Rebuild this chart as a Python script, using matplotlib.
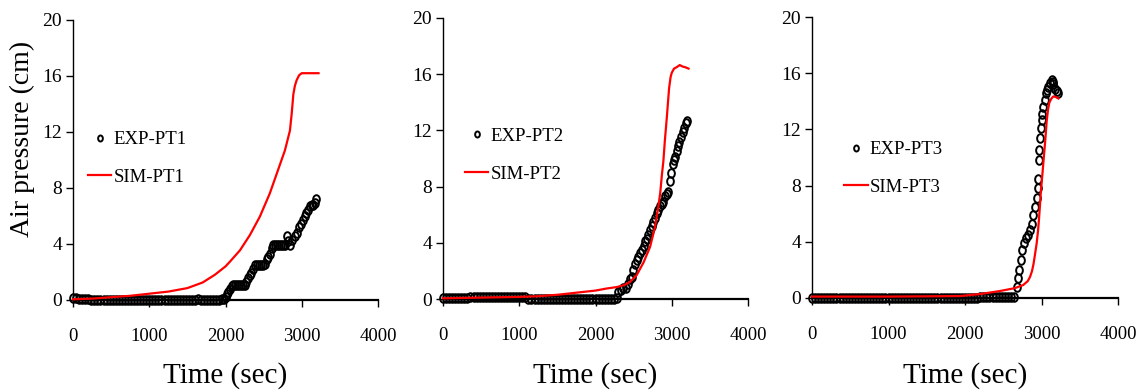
import matplotlib
matplotlib.use('Agg')
import matplotlib.pyplot as plt
from matplotlib.path import Path
from matplotlib.transforms import Affine2D

plt.rcParams['font.family'] = ['Liberation Serif', 'DejaVu Serif']

# ---------------- data ----------------
exp1_t = [0, 40, 80, 120, 160, 200, 240, 280, 320, 360, 400, 440, 480, 520, 560, 600, 640, 680, 720, 760,
          800, 840, 880, 920, 960, 1000, 1040, 1080, 1120, 1160, 1200, 1240, 1280, 1320, 1360, 1400, 1440, 1480,
          1520, 1560, 1600, 1640, 1680, 1720, 1760, 1800, 1840, 1880, 1920, 1960,
          1980, 2000, 2015, 2035, 2057, 2080, 2100, 2125, 2150, 2175, 2200, 2225, 2250, 2275, 2300, 2320, 2340,
          2360, 2385, 2410, 2435, 2460, 2490, 2515, 2540, 2560, 2585, 2610, 2625, 2650, 2675, 2700, 2725, 2750,
          2775, 2800, 2820, 2845, 2870, 2910, 2940, 2970, 2996, 3020, 3040, 3060, 3085, 3110, 3130, 3150, 3170,
          3193]
exp1_p = [0.15, 0.15, 0.1, 0.1, 0.05, 0.05, 0, 0, 0, 0,
          0, 0, 0, 0, 0, 0, 0, 0, 0, 0,
          0, 0, 0, 0, 0, 0, 0, 0, 0, 0,
          0, 0, 0, 0, 0, 0, 0, 0, 0, 0,
          0, 0.1, 0, 0, 0, 0, 0, 0, 0, 0.05,
          0.1, 0.2, 0.4, 0.6, 0.8, 1.0, 1.1, 1.1, 1.1, 1.1,
          1.1, 1.1, 1.1, 1.3, 1.55, 1.8, 1.9, 2.2, 2.5, 2.5,
          2.5, 2.5, 2.5, 2.6, 2.9, 3.1, 3.3, 3.7, 3.9, 3.9,
          3.9, 3.9, 3.9, 3.9, 3.9, 4.6, 4.2, 3.9, 4.3, 4.6,
          4.8, 5.2, 5.4, 5.7, 6.0, 6.2, 6.4, 6.7, 6.8, 6.8,
          6.9, 7.2]
sim1_t = [0, 250, 500, 750, 1000, 1250, 1500, 1700, 1860, 2000, 2060, 2190, 2320, 2450, 2580, 2690, 2780,
          2845, 2868, 2890, 2910, 2933, 2965, 3000, 3100, 3220]
sim1_p = [0.05, 0.1, 0.2, 0.3, 0.45, 0.6, 0.85, 1.25, 1.8, 2.4, 2.75, 3.55, 4.64, 5.95, 7.6, 9.3, 10.7,
          12.1, 13.3, 14.7, 15.3, 15.7, 16.05, 16.2, 16.2, 16.2]

exp2_t = [0, 40, 80, 120, 160, 200, 240, 280, 320, 360, 400, 440, 480, 520, 560, 600, 640, 680, 720, 760,
          800, 840, 880, 920, 960, 1000, 1040, 1080, 1120, 1160, 1200, 1240, 1280, 1320, 1360, 1400, 1440, 1480,
          1520, 1560, 1600, 1640, 1680, 1720, 1760, 1800, 1840, 1880, 1920, 1960, 2000, 2040, 2080, 2120, 2160,
          2200, 2240,
          2280, 2300, 2330, 2365, 2400, 2430, 2455, 2475, 2495, 2520, 2540, 2560, 2585, 2605, 2630, 2650, 2670,
          2695, 2715, 2735, 2760, 2780, 2800, 2825, 2845, 2870, 2890, 2910, 2935, 2955, 2975, 2990, 3010, 3030,
          3045, 3065, 3085, 3100, 3120, 3145, 3165, 3185, 3200]
exp2_p = [0.05, 0.05, 0.05, 0.05, 0.05, 0.05, 0.05, 0.05, 0.05,
          0.15, 0.15, 0.15, 0.15, 0.15, 0.15, 0.15, 0.15, 0.15, 0.15,
          0.15, 0.15, 0.15, 0.15, 0.15, 0.15, 0.15, 0.15, 0.15,
          0, 0, 0, 0, 0, 0, 0, 0, 0, 0,
          0, 0, 0, 0, 0, 0, 0, 0, 0, 0,
          0, 0, 0, 0, 0, 0, 0, 0, 0,
          0.1, 0.5, 0.65, 0.75, 0.8, 1.1, 1.4, 1.6, 2.05, 2.5,
          2.8, 3.0, 3.3, 3.5, 3.8, 4.1, 4.3, 4.55, 4.9, 5.2,
          5.5, 5.8, 6.1, 6.35, 6.6, 6.75, 6.9, 7.3, 7.5, 7.6,
          8.4, 9.0, 9.6, 9.9, 10.1, 10.55, 10.9, 11.2, 11.5, 11.9,
          12.2, 12.5, 12.7]
sim2_t = [0, 500, 1000, 1250, 1500, 1750, 2000, 2150, 2280, 2380, 2450, 2540, 2630, 2715, 2780, 2825, 2850,
          2870, 2890, 2910, 2935, 2965, 2985, 3000, 3030, 3065, 3105, 3140, 3175, 3220]
sim2_p = [0.05, 0.1, 0.15, 0.2, 0.3, 0.45, 0.6, 0.75, 0.85, 1.0, 1.2, 1.7, 2.6, 3.7, 5.1, 6.6, 7.6,
          8.8, 9.8, 11.3, 12.9, 15.0, 15.8, 16.1, 16.4, 16.5, 16.65, 16.55, 16.5, 16.4]

exp3_t = [0, 40, 80, 120, 160, 200, 240, 280, 320, 360, 400, 440, 480, 520, 560, 600, 640, 680, 720, 760,
          800, 840, 880, 920, 960, 1000, 1040, 1080, 1120, 1160, 1200, 1240, 1280, 1320, 1360, 1400, 1440, 1480,
          1520, 1560, 1600, 1640, 1680, 1720, 1760, 1800, 1840, 1880, 1920, 1960, 2000, 2040, 2080, 2120, 2160,
          2200, 2240, 2280, 2320, 2360, 2400, 2440, 2480, 2520, 2560, 2600, 2640,
          2676, 2697, 2710, 2728, 2750, 2772, 2793, 2820, 2850, 2872, 2893, 2915, 2937, 2948, 2958, 2967, 2971,
          2980, 2993, 3002, 3010, 3023, 3046, 3059, 3075, 3089, 3110, 3133, 3145, 3155, 3175, 3198, 3220]
exp3_p = [0, 0, 0, 0, 0, 0, 0, 0, 0, 0,
          0, 0, 0, 0, 0, 0, 0, 0, 0, 0,
          0, 0, 0, 0, 0, 0, 0, 0, 0, 0,
          0, 0, 0, 0, 0, 0, 0, 0, 0, 0,
          0, 0, 0, 0, 0, 0, 0, 0, 0, 0,
          0, 0, 0, 0, 0,
          0.08, 0.08, 0.08, 0.08, 0.08, 0.08, 0.08, 0.08, 0.08, 0.08, 0.08, 0.08,
          0.8, 1.4, 2.0, 2.7, 3.4, 3.9, 4.25, 4.5, 4.84, 5.3,
          5.9, 6.5, 7.1, 7.8, 8.5, 9.8, 10.5, 11.4, 12.1, 12.7,
          13.1, 13.6, 14.1, 14.6, 14.8, 15.0, 15.3, 15.5, 15.4, 15.2,
          14.9, 14.7, 14.6]
sim3_t = [0, 500, 1000, 1500, 1935, 2200, 2460, 2650, 2760, 2820, 2850, 2875, 2895, 2915, 2937, 2955, 2967,
          2980, 2993, 3010, 3030, 3046, 3068, 3085, 3102, 3130, 3155, 3190, 3220]
sim3_p = [0.1, 0.1, 0.1, 0.12, 0.14, 0.28, 0.5, 0.7, 0.92, 1.2, 1.5, 1.9, 2.4, 3.1, 3.9, 4.8, 5.6,
          6.6, 7.7, 8.7, 10.0, 11.0, 12.6, 13.4, 13.9, 14.2, 14.35, 14.3, 14.2]

exp_labels = ['EXP-PT1', 'EXP-PT2', 'EXP-PT3']
sim_labels = ['SIM-PT1', 'SIM-PT2', 'SIM-PT3']
x_ticks = [0, 1000, 2000, 3000, 4000]
y_ticks = [0, 4, 8, 12, 16, 20]
x_label = 'Time (sec)'
y_label = 'Air pressure (cm)'

exps = [(exp1_t, exp1_p), (exp2_t, exp2_p), (exp3_t, exp3_p)]
sims = [(sim1_t, sim1_p), (sim2_t, sim2_p), (sim3_t, sim3_p)]

# ---------------- layout ----------------
W, H = 1140, 390
fig = plt.figure(figsize=(W / 100, H / 100), dpi=100)

# slightly narrow open circle, as in the reference
ellipse = Path.unit_circle().transformed(Affine2D().scale(0.78, 1.0))

boxes = [(73, 20, 305, 280), (443, 18, 305, 281), (812, 17, 306, 281)]  # left, top, w, h in px
legend_anchor = [(0.049, 0.505), (0.072, 0.512), (0.105, 0.461)]

for i in range(3):
    l, t, w, h = boxes[i]
    ax = fig.add_axes([l / W, 1 - (t + h) / H, w / W, h / H])
    et, ep = exps[i]
    st, sp = sims[i]
    ax.plot(et, ep, linestyle='none', marker=ellipse, markersize=6.2, markerfacecolor='none',
            markeredgecolor='black', markeredgewidth=1.4, clip_on=False, zorder=2,
            label=exp_labels[i])
    ax.plot(st, sp, color='#ff0000', linewidth=1.6, clip_on=False, zorder=3, label=sim_labels[i])

    ax.set_xlim(0, 4000)
    ax.set_ylim(0, 20)
    ax.set_xticks(x_ticks)
    ax.set_yticks(y_ticks)
    for s in ['top', 'right']:
        ax.spines[s].set_visible(False)
    ax.spines['bottom'].set_linewidth(1.6)
    ax.spines['left'].set_linewidth(1.0)
    ax.spines['bottom'].set_zorder(1)
    ax.tick_params(axis='x', direction='out', length=5, width=1, pad=15, labelsize=13.5)
    ax.tick_params(axis='y', direction='out', length=5, width=1, pad=3, labelsize=14)
    ax.patch.set_visible(False)

    ax.legend(loc='center left', bbox_to_anchor=legend_anchor[i], frameon=False,
              fontsize=13.5, handlelength=1.25, handletextpad=0.1, labelspacing=1.1,
              borderpad=0, borderaxespad=0, numpoints=1, markerscale=0.7)

    fig.text((l + w / 2) / W, 1 - 383 / H, x_label, ha='center', va='baseline', fontsize=21)

fig.text(22.5 / W, 1 - 138.5 / H, y_label, rotation=90, ha='center', va='center', fontsize=20)

fig.savefig('out.png', dpi=100)
